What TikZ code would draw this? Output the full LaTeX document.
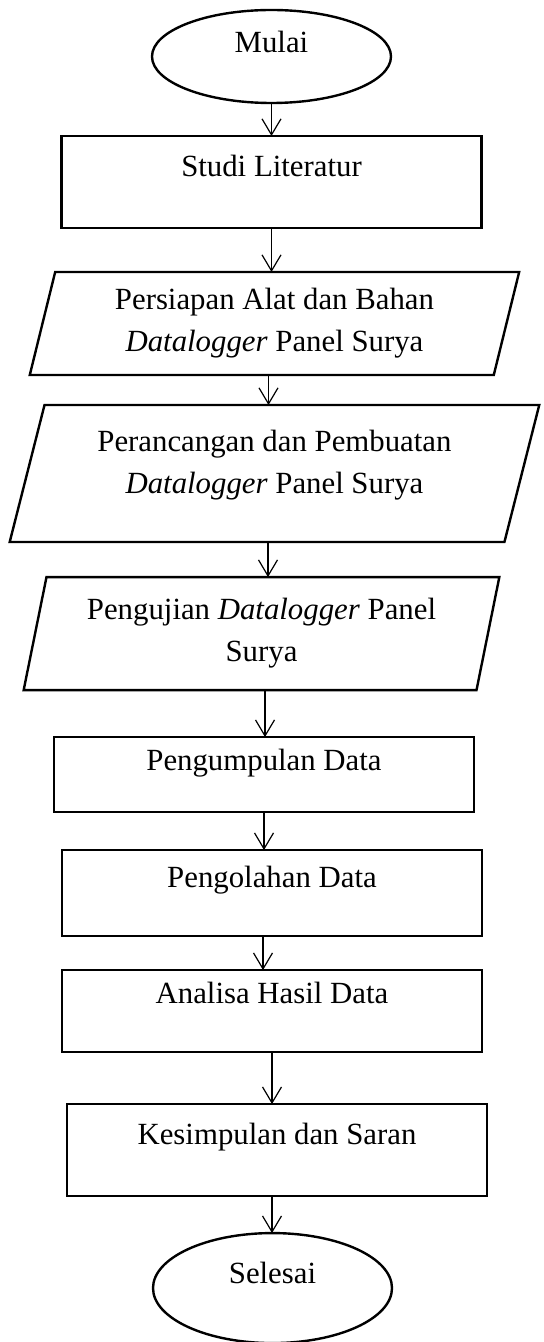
\documentclass[tikz,border=0pt]{standalone}
\usepackage{fontspec}
\setmainfont{Liberation Serif}
\usetikzlibrary{positioning,shapes.geometric,arrows.meta}

\begin{document}
\begin{tikzpicture}[>={Straight Barb[length=8pt,width=9.5pt]},font=\fontsize{15.4}{21}\selectfont,
		terminal/.style 2 args={draw,ellipse,line width=1.2pt,minimum width=119.5pt,inner sep=0pt,outer sep=0pt,text height=#1,text depth=#2},
		proc/.style 2 args={draw,rectangle,line width=1.2pt,minimum width=210pt,inner sep=0pt,outer sep=0pt,text height=#1,text depth=#2},
		io/.style={draw,trapezium,trapezium left angle=77,trapezium right angle=103,trapezium stretches=true,line width=1.2pt,outer sep=0pt,align=center},
	]
		\useasboundingbox (0,0) rectangle (271.5pt,-671pt);

		\node[terminal={11pt}{14.5pt},minimum height=46.5pt] (mulai) at (135.75pt,-28.25pt) {Mulai};
		\node[proc={20.5pt}{25.5pt},below=16.5pt of mulai] (studi) {Studi Literatur};
		\node[io,minimum width=245pt,minimum height=51.5pt,below=22pt of studi,xshift=1.5pt] (siap)
			{Persiapan Alat dan Bahan\\\textit{Datalogger} Panel Surya};
		\node[io,trapezium left angle=74.5,trapezium right angle=105.5,minimum width=265.5pt,minimum height=68.5pt,below=15pt of siap] (rancang)
			{Perancangan dan Pembuatan\\\textit{Datalogger} Panel Surya\rule[-11.8pt]{0pt}{0pt}};
		\node[io,minimum width=238.5pt,minimum height=56.5pt,below=17.5pt of rancang,xshift=-6.5pt] (uji)
			{Pengujian \textit{Datalogger} Panel\\Surya};
		\node[proc={16.5pt}{21pt},below=23.5pt of uji,xshift=1.25pt] (kumpul) {Pengumpulan Data};
		\node[proc={18.5pt}{24.5pt},below=19pt of kumpul,xshift=4pt] (olah) {Pengolahan Data};
		\node[proc={16.5pt}{24.5pt},below=17pt of olah] (analisa) {Analisa Hasil Data};
		\node[proc={20pt}{26pt},below=26pt of analisa,xshift=2.5pt] (simpul) {Kesimpulan dan Saran};
		\node[terminal={11pt}{16pt},minimum height=55pt,below=18.5pt of simpul,xshift=-2.25pt] (selesai) {Selesai};

		\path[->,line width=0.6pt]
			(mulai) edge (mulai |- studi.north)
			(studi) edge (studi |- siap.north)
			([xshift=-3pt]siap.south) edge ([xshift=-3pt]siap.south |- rancang.north)
			([xshift=-3.25pt]rancang.south) edge ([xshift=-3.25pt]rancang.south |- uji.north)
			([xshift=1.75pt]uji.south) edge ([xshift=1.75pt]uji.south |- kumpul.north)
			(kumpul) edge (kumpul |- olah.north)
			([xshift=-4.5pt]olah.south) edge ([xshift=-4.5pt]olah.south |- analisa.north)
			(analisa) edge (analisa |- simpul.north)
			([xshift=-2.5pt]simpul.south) edge ([xshift=-2.5pt]simpul.south |- selesai.north)
		;
	\end{tikzpicture}
\end{document}
